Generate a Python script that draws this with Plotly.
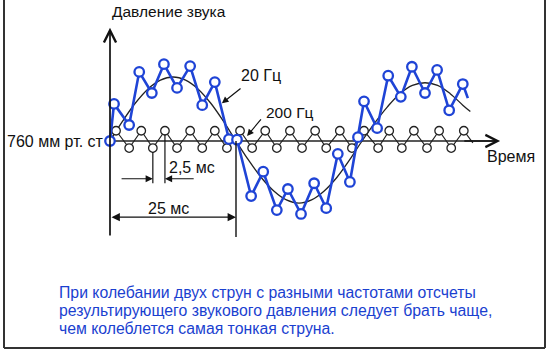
import plotly.graph_objects as go

# ---- data (time in ms, pressure in relative units; 0 = 760 mm Hg) ----
sine_t = [0, 2.5, 5, 7.5, 10, 12.5, 15, 17.5, 20, 22.5, 25, 27.5, 30, 32.5, 35,
          37.5, 40, 42.5, 45, 47.5, 50, 52.5, 55, 57.5, 60, 62.5, 65, 67.5, 70, 71.5]
sine_p = [0, 3.1, 5.9, 8.1, 9.5, 10.0, 9.5, 8.1, 5.9, 3.1, 0, -3.0, -5.7, -7.8, -9.2,
          -9.7, -9.2, -7.8, -5.7, -3.0, 0, 2.8, 5.3, 7.4, 8.7, 9.1, 8.7, 7.4, 5.6, 4.6]

hf_t = [1.2, 3.8, 6.2, 8.5, 10.9, 13.3, 15.9, 18.3, 20.8, 23.2, 25.8, 28.2, 30.8, 33.1, 35.7,
        38.1, 40.7, 42.9, 45.6, 48.0, 50.4, 53.2, 55.4, 57.9, 60.3, 62.9, 65.3, 67.7, 70.2]
hf_p = [1.6, -1.1, 1.6, -1.1, 1.6, -1.1, 1.6, -1.1, 1.6, -1.1, 1.6, -1.1, 1.6, -1.1, 1.6,
        -1.1, 1.6, -1.1, 1.6, -1.1, 1.6, -1.1, 1.6, -1.1, 1.6, -1.1, 1.6, -1.1, 1.6]
hf_start = (0.0, 0.0)
hf_end = (72.0, -0.3)

sum_t = [0, 0.8, 3.8, 5.8, 8.3, 10.7, 13.3, 15.9, 18.3, 20.8, 23.6, 25.2, 28.0, 30.4, 33.1,
         35.3, 37.9, 40.5, 42.9, 45.2, 47.6, 49.2, 50.4, 53.0, 55.2, 57.7, 59.9, 62.5, 64.9,
         67.3, 70.0]
sum_p = [0, 5.8, 2.5, 10.8, 7.5, 12.0, 8.3, 11.7, 5.6, 9.2, 0.3, 0.2, -8.6, -4.8, -10.8,
         -7.5, -11.4, -6.6, -10.5, -2.0, -6.4, 0.6, 6.2, 2.0, 10.2, 6.9, 11.6, 7.5, 11.1,
         4.8, 8.9]
sum_end = (71.0, 6.7)

caption_lines = [
    "При колебании двух струн с разными частотами отсчеты",
    "результирующего звукового давления следует брать чаще,",
    "чем колеблется самая тонкая струна.",
]

BLUE = "#1f44d6"
CAPBLUE = "#1a3fd0"
FONT = "Liberation Sans, Arial, sans-serif"

fig = go.Figure()

# 20 Hz sine
fig.add_trace(go.Scatter(x=sine_t, y=sine_p, mode="lines", line=dict(color="#222", width=1.3, shape="spline"),
                         hoverinfo="skip"))
# 200 Hz zigzag line
fig.add_trace(go.Scatter(x=[hf_start[0]] + hf_t + [hf_end[0]], y=[hf_start[1]] + hf_p + [hf_end[1]],
                         mode="lines", line=dict(color="#222", width=1.2), hoverinfo="skip"))
# horizontal axis line drawn below markers
fig.add_shape(type="line", xref="x", yref="y", x0=-0.7, y0=0, x1=77, y1=0,
              line=dict(color="#222", width=1.6), layer="below")
fig.add_trace(go.Scatter(x=hf_t, y=hf_p, mode="markers",
                         marker=dict(symbol="circle", size=8.5, color="white", line=dict(color="#222", width=1.3)),
                         hoverinfo="skip"))
# sum signal
fig.add_trace(go.Scatter(x=sum_t + [sum_end[0]], y=sum_p + [sum_end[1]], mode="lines",
                         line=dict(color=BLUE, width=2.6), hoverinfo="skip"))
fig.add_trace(go.Scatter(x=sum_t, y=sum_p, mode="markers",
                         marker=dict(symbol="circle", size=9.5, color="white", line=dict(color=BLUE, width=2.3)),
                         hoverinfo="skip"))

ann = []
def arrow(x, y, ax, ay, head=5, side="end", width=1.5, size=1.0):
    ann.append(dict(x=x, y=y, ax=ax, ay=ay, xref="x", yref="y", axref="x", ayref="y", text="",
                    showarrow=True, arrowhead=head, startarrowhead=head, arrowside=side,
                    arrowwidth=width, arrowsize=size, startarrowsize=size, arrowcolor="#111",
                    standoff=0, startstandoff=0))

# axes
arrow(0, 17.7, 0, -15.0, head=5, width=1.7, size=1.4)
arrow(77.4, 0, 70, 0, head=5, width=1.7, size=1.4)
# 25 ms dimension
fig.add_shape(type="line", xref="x", yref="y", x0=25, y0=0, x1=25, y1=-15.0, line=dict(color="#111", width=1.4))
arrow(25, -11.9, 0, -11.9, head=2, side="end+start", width=1.4, size=1.2)
# 2.5 ms dimension
fig.add_shape(type="line", xref="x", yref="y", x0=8.5, y0=-1.7, x1=8.5, y1=-6.6, line=dict(color="#111", width=1.2))
fig.add_shape(type="line", xref="x", yref="y", x0=10.9, y0=1.0, x1=10.9, y1=-6.6, line=dict(color="#111", width=1.2))
arrow(8.5, -5.9, 2.0, -5.9, head=2, width=1.2, size=1.2)
arrow(10.9, -5.9, 16.9, -5.9, head=2, width=1.2, size=1.2)
# pointers
arrow(22.2, 5.9, 26.2, 8.4, head=2, width=1.2, size=1.1)
arrow(27.2, 0.8, 30.2, 3.6, head=2, width=1.2, size=1.1)

def label(x, y, text, xanchor="center", size=16, color="#111", xref="x", yref="y"):
    ann.append(dict(x=x, y=y, xref=xref, yref=yref, text=text, showarrow=False, xanchor=xanchor,
                    yanchor="middle", align="left", font=dict(family=FONT, size=size, color=color)))

label(0, 20.2, "Давление звука", xanchor="left", size=15.5)
label(-0.8, 0, "760 мм рт. ст", xanchor="right", size=16)
label(79.6, -2.4, "Время", size=16)
label(30.0, 10.2, "20 Гц", size=16)
label(35.7, 4.4, "200 Гц", size=15.5)
label(16.3, -4.2, "2,5 мс", size=16)
label(11.6, -10.5, "25 мс", size=16)
for i, line in enumerate(caption_lines):
    label(57 / 550, 1 - (292 + 18.3 * i) / 354, line, xanchor="left", size=15.8,
          color=CAPBLUE, xref="paper", yref="paper")

# frame
for x0, y0, x1, y1 in [(4, 0, 4, 348), (4, 348, 545, 348), (545, 0, 545, 348)]:
    fig.add_shape(type="line", xref="paper", yref="paper", x0=x0 / 550, x1=x1 / 550,
                  y0=1 - y0 / 354, y1=1 - y1 / 354, line=dict(color="#333", width=2))

fig.update_layout(
    width=550, height=354, margin=dict(l=0, r=0, t=0, b=0),
    paper_bgcolor="white", plot_bgcolor="white", showlegend=False,
    annotations=ann,
    xaxis=dict(range=[-110 / 5.04, 440 / 5.04], visible=False, fixedrange=True),
    yaxis=dict(range=[-213 / 6.4, 141 / 6.4], visible=False, fixedrange=True),
)
fig.write_html("out.html", config={"displayModeBar": False})
